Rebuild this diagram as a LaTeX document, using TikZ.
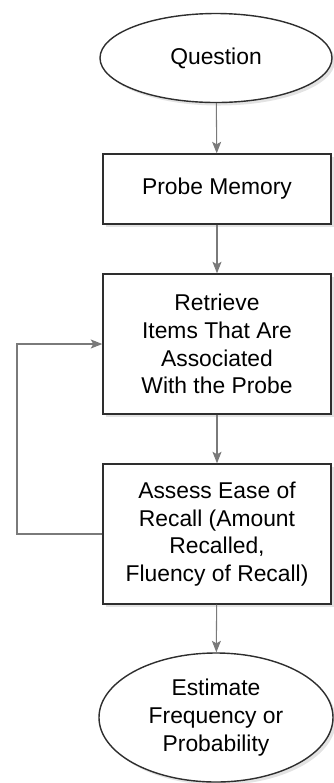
\documentclass[tikz,border=0pt]{standalone}
\usepackage{fontspec}
\setmainfont{Liberation Sans}
\usetikzlibrary{shapes.geometric,shadows,arrows.meta}
\definecolor{linegray}{HTML}{7A7A7A}
\definecolor{framegray}{HTML}{2E2E2E}
\begin{document}
\begin{tikzpicture}[>={Stealth[length=2.3mm,width=1.8mm,inset=0.5mm]},
  every node/.style={font=\fontsize{13}{15.8}\selectfont, align=center, inner sep=0pt},
  stepbox/.style={draw=framegray, line width=0.8pt, fill=white, minimum width=4.56cm,
    drop shadow={fill=black!22, shadow xshift=0.06cm, shadow yshift=-0.06cm}},
  endcap/.style={ellipse, draw=framegray, line width=0.8pt, fill=white,
    drop shadow={fill=black!22, shadow xshift=0.06cm, shadow yshift=-0.06cm}},
  flow/.style={->, draw=linegray, line width=0.6pt}]
  \useasboundingbox (0,0) rectangle (6.66,-15.66);
  % nodes
  \node[endcap, minimum width=4.64cm, minimum height=1.78cm] (question) at (4.32,-1.16) {Question};
  \node[stepbox, minimum height=1.4cm] (probe) at (4.34,-3.78) {Probe Memory};
  \node[stepbox, minimum height=2.8cm] (retrieve) at (4.34,-6.88)
    {Retrieve\\Items That Are\\Associated\\With the Probe};
  \node[stepbox, minimum height=2.8cm] (assess) at (4.34,-10.68)
    {Assess Ease of\\Recall (Amount\\Recalled,\\Fluency of Recall)};
  \node[endcap, minimum width=4.68cm, minimum height=2.58cm] (estimate) at (4.32,-14.35)
    {Estimate\\Frequency or\\Probability};
  % connectors
  \draw[flow] (question) -- (probe);
  \draw[flow] (probe) -- (retrieve);
  \draw[flow] (retrieve) -- (assess);
  \draw[flow] (assess) -- (estimate);
  \coordinate (loop) at (0.34,-10.68);
  \draw[flow] (assess.west) -- (loop) |- (retrieve.west);
\end{tikzpicture}
\end{document}
